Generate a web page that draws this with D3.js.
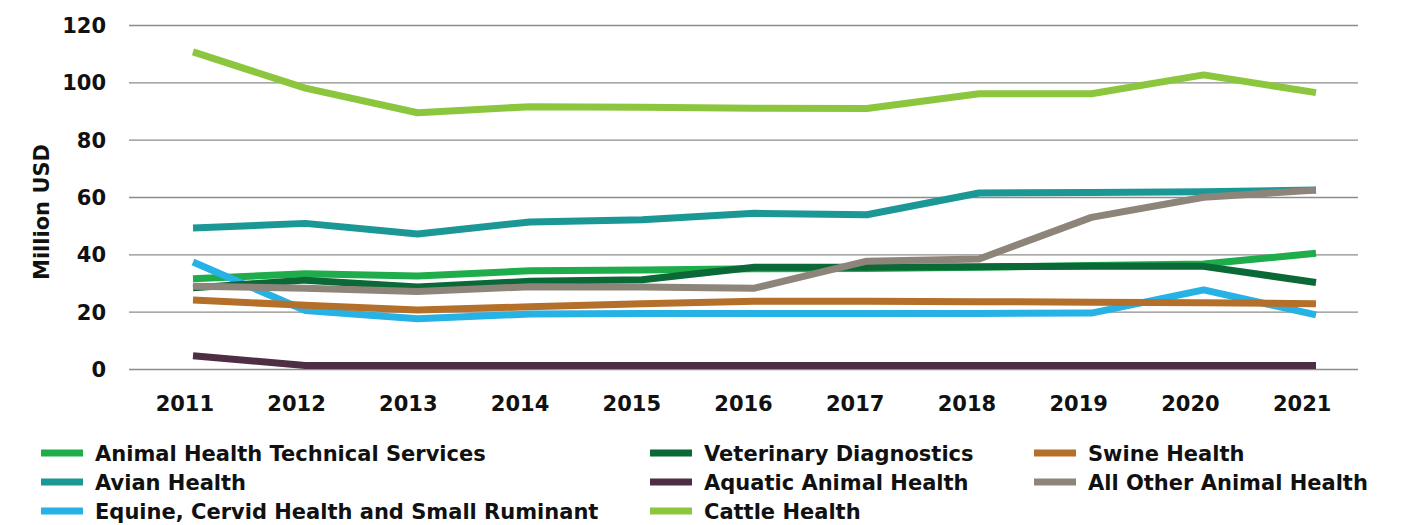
<!DOCTYPE html>
<html>
<head>
<meta charset="utf-8">
<script src="https://cdn.jsdelivr.net/npm/d3@7"></script>
<style>
  html, body { margin: 0; padding: 0; background: #fff; }
  svg { display: block; font-family: "DejaVu Sans", sans-serif; font-weight: 700; }
</style>
</head>
<body>
<svg id="chart" width="1408" height="525"></svg>
<script>
const years = ["2011","2012","2013","2014","2015","2016","2017","2018","2019","2020","2021"];
const yTicks = [0, 20, 40, 60, 80, 100, 120];

const seriesNames = [
  "Animal Health Technical Services",
  "Avian Health",
  "Equine, Cervid Health and Small Ruminant",
  "Veterinary Diagnostics",
  "Aquatic Animal Health",
  "Cattle Health",
  "Swine Health",
  "All Other Animal Health"
];
const seriesColors = ["#1fad4b", "#1b9896", "#27b2e6", "#0b6837", "#4e2e44", "#8cc63f", "#b4702a", "#8e857a"];

const animalHealthTechnicalServices = [31.5, 33.2, 32.4, 34.3, 34.5, 35.0, 35.1, 35.5, 36.1, 36.6, 40.4];
const avianHealth = [49.2, 50.8, 47.1, 51.3, 52.1, 54.3, 53.8, 61.4, 61.6, 61.8, 62.4];
const equineCervidSmallRuminant = [37.3, 20.4, 17.5, 19.2, 19.4, 19.4, 19.4, 19.4, 19.5, 27.6, 18.9];
const veterinaryDiagnostics = [28.3, 31.0, 28.6, 30.6, 31.1, 35.5, 35.5, 35.7, 35.8, 35.8, 30.2];
const aquaticAnimalHealth = [4.6, 1.2, 1.2, 1.2, 1.2, 1.2, 1.2, 1.2, 1.2, 1.2, 1.2];
const cattleHealth = [110.6, 98.0, 89.4, 91.5, 91.3, 91.0, 90.9, 96.0, 96.0, 102.6, 96.4];
const swineHealth = [24.1, 22.2, 20.6, 21.7, 22.8, 23.6, 23.6, 23.5, 23.3, 23.1, 22.8];
const allOtherAnimalHealth = [28.9, 28.2, 27.0, 28.7, 28.6, 28.2, 37.6, 38.4, 52.9, 59.9, 62.4];

const seriesValues = [
  animalHealthTechnicalServices, avianHealth, equineCervidSmallRuminant,
  veterinaryDiagnostics, aquaticAnimalHealth, cattleHealth, swineHealth, allOtherAnimalHealth
];

// legend order (row-major, 3 columns)
const legendOrder = [0, 3, 6, 1, 4, 7, 2, 5];

const svg = d3.select("#chart");
const plotLeft = 129, plotRight = 1358, plotTop = 25, plotBottom = 369;
const FONT = "'DejaVu Sans', sans-serif";

const xBand = d3.scaleBand().domain(years).range([plotLeft, plotRight]).padding(0);
const xLine = d3.scalePoint().domain(years).range([193, 1316]);
const y = d3.scaleLinear().domain([0, 120]).range([plotBottom, plotTop]);

// gridlines
const grid = svg.append("g")
  .attr("transform", `translate(${plotLeft},0)`)
  .call(d3.axisLeft(y).tickValues(yTicks).tickSize(-(plotRight - plotLeft)).tickFormat(""));
grid.select(".domain").remove();
grid.selectAll(".tick line").attr("stroke", "#8c8c8c").attr("stroke-width", 1.4);

// y tick labels
const yAxis = svg.append("g")
  .attr("transform", `translate(106,0)`)
  .call(d3.axisLeft(y).tickValues(yTicks).tickSize(0).tickPadding(0));
yAxis.select(".domain").remove();
yAxis.selectAll("text")
  .attr("font-family", FONT).attr("font-weight", 700)
  .attr("font-size", 21).attr("fill", "#111").attr("dy", "0.36em");

// x axis labels
const xAxis = svg.append("g")
  .attr("transform", `translate(0,${plotBottom})`)
  .call(d3.axisBottom(xBand).tickSize(0).tickPadding(0));
xAxis.select(".domain").remove();
xAxis.selectAll("text")
  .attr("font-family", FONT).attr("font-weight", 700)
  .attr("font-size", 21).attr("fill", "#111").attr("y", 34).attr("dy", "0.36em");

// y axis title
svg.append("text")
  .attr("transform", `translate(49,212) rotate(-90)`)
  .attr("text-anchor", "middle")
  .attr("font-family", FONT)
  .attr("font-size", 21).attr("fill", "#111")
  .text("Million USD");

// lines
const line = d3.line()
  .x((d, i) => xLine(years[i]))
  .y(d => y(d));

svg.append("g").selectAll("path")
  .data(seriesValues)
  .join("path")
  .attr("d", d => line(d))
  .attr("fill", "none")
  .attr("stroke", (d, i) => seriesColors[i])
  .attr("stroke-width", 7)
  .attr("stroke-linejoin", "round")
  .attr("stroke-linecap", "butt");

// legend
const colX = [41, 650, 1034];
const rowY = [453, 482, 511];
const legend = svg.append("g");
legendOrder.forEach((si, k) => {
  const col = k % 3, row = Math.floor(k / 3);
  const g = legend.append("g").attr("transform", `translate(${colX[col]},${rowY[row]})`);
  g.append("rect").attr("x", 0).attr("y", -3.5).attr("width", 42).attr("height", 7)
    .attr("fill", seriesColors[si]);
  g.append("text").attr("x", 54).attr("y", 0).attr("dy", "0.36em")
    .attr("font-family", FONT)
    .attr("font-size", 21).attr("fill", "#111")
    .text(seriesNames[si]);
});
</script>
</body>
</html>
